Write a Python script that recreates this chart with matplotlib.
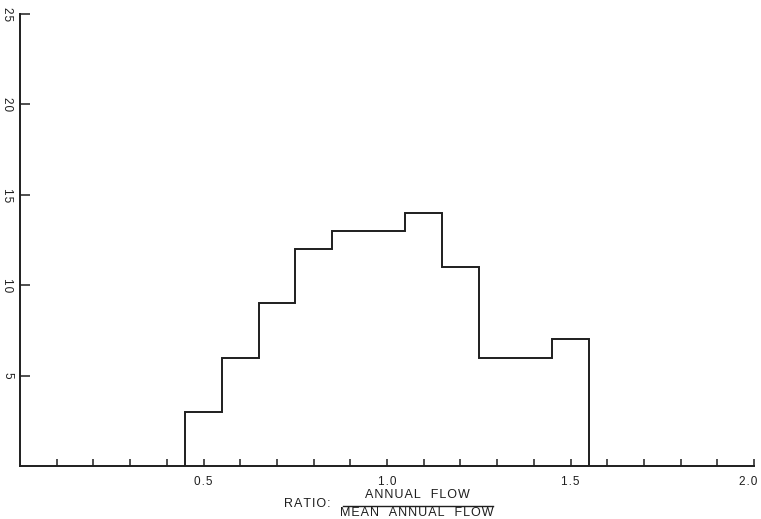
import numpy as np
import matplotlib
matplotlib.use('Agg')
import matplotlib.pyplot as plt
import matplotlib.transforms as mtransforms
from matplotlib.lines import Line2D

# Histogram of annual flow ratios (bin width 0.1)
bin_edges = [0.45, 0.55, 0.65, 0.75, 0.85, 0.95, 1.05, 1.15, 1.25, 1.35, 1.45, 1.55]
counts = [3, 6, 9, 12, 13, 13, 14, 11, 6, 6, 7]

x_ticks = [round(0.1 * i, 1) for i in range(1, 21)]
x_labels = {0.5: '0.5', 1.0: '1.0', 1.5: '1.5', 2.0: '2.0'}
y_ticks = [5, 10, 15, 20, 25]

INK = '#1e1e1e'
plt.rcParams['font.family'] = ['Liberation Sans', 'DejaVu Sans']


def spaced(s, word_gap='   '):
    # letter-spaced lettering, hair spaces between characters
    return word_gap.join('\u200a'.join(w) for w in s.split(' '))


fig = plt.figure(figsize=(7.61, 5.19), dpi=100)
ax = fig.add_axes([20 / 761, 53 / 519, 734 / 761, 452 / 519])

ax.stairs(counts, bin_edges, color=INK, linewidth=1.4)

ax.set_xlim(0, 2.0)
ax.set_ylim(0, 25)

for side in ('top', 'right'):
    ax.spines[side].set_visible(False)
for side in ('left', 'bottom'):
    ax.spines[side].set_linewidth(1.4)
    ax.spines[side].set_color(INK)

ax.set_xticks(x_ticks, labels=[spaced(x_labels.get(t, '')) for t in x_ticks])
ax.set_yticks(y_ticks, labels=[spaced(str(v)) for v in y_ticks])
ax.tick_params(axis='x', direction='in', length=5, width=1.1, pad=7,
               labelsize=8.5, colors=INK)
ax.tick_params(axis='y', direction='in', length=7, width=1.1, pad=5,
               labelsize=8.5, colors=INK, labelrotation=-90)
for lbl in ax.get_yticklabels():
    lbl.set_verticalalignment('center')

# nudge the last x label so it stays inside the figure
last = ax.get_xticklabels()[-1]
last.set_transform(last.get_transform() +
                   mtransforms.ScaledTranslation(-4 / 72, 0, fig.dpi_scale_trans))

# axis caption written as a fraction
fs = 9
fig.text(307 / 761, 1 - 504 / 519, spaced('RATIO:'), ha='center', va='center',
         fontsize=fs, color=INK)
fig.text(417 / 761, 1 - 495 / 519, spaced('ANNUAL FLOW'), ha='center', va='center',
         fontsize=fs, color=INK)
fig.text(417 / 761, 1 - 513 / 519, spaced('MEAN ANNUAL FLOW'), ha='center', va='center',
         fontsize=fs, color=INK)
fig.add_artist(Line2D([343 / 761, 493 / 761], [1 - 506 / 519, 1 - 506 / 519],
                      transform=fig.transFigure, color=INK, linewidth=1.0))

fig.savefig('out.png', dpi=100)
